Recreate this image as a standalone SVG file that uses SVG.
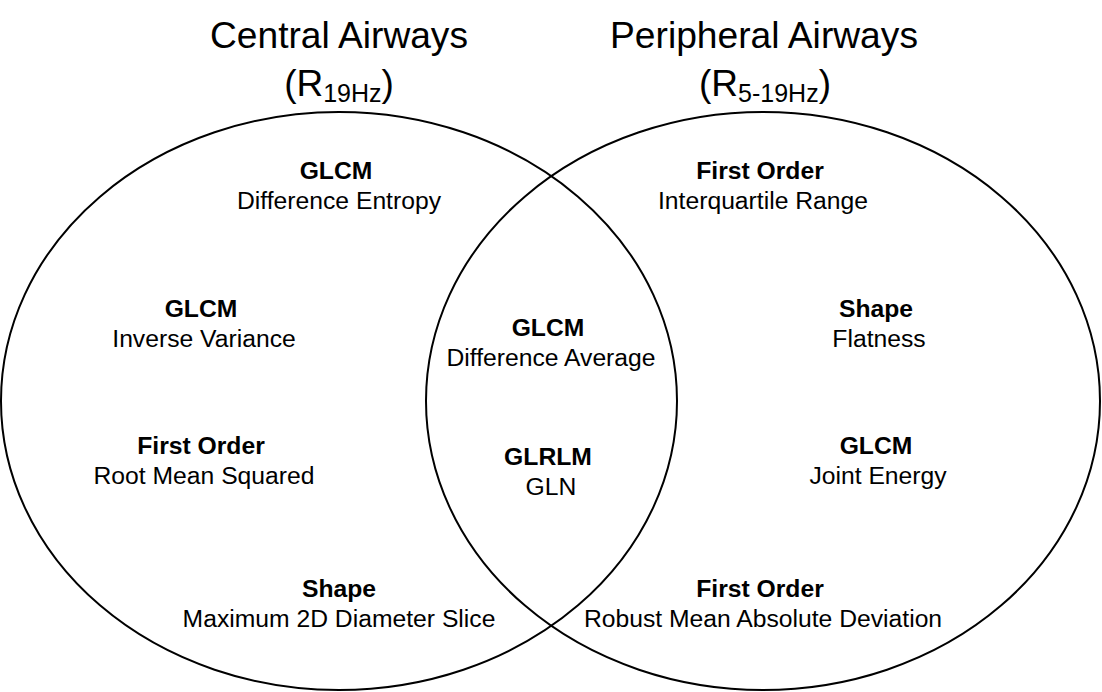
<svg xmlns="http://www.w3.org/2000/svg" width="1102" height="692" viewBox="0 0 1102 692">
<style>
.t{font-family:"Liberation Sans",Arial,sans-serif;fill:#000;text-anchor:middle}
.title{font-size:37px}
.sub{font-size:25px}
.h{font-size:24.7px;font-weight:bold}
.b{font-size:24.7px}
.set{fill:none;stroke:#000;stroke-width:2}
</style>
<rect width="1102" height="692" fill="#fff"/>
<g id="sets">
<ellipse id="central" class="set" cx="339" cy="401" rx="338" ry="289"/>
<ellipse id="peripheral" class="set" cx="763" cy="401" rx="337" ry="289"/>
</g>
<g id="titles">
<text class="t title" x="339" y="48" textLength="258" lengthAdjust="spacingAndGlyphs">Central Airways</text>
<text class="t title" x="339" y="96">(R<tspan class="sub" dy="6">19Hz</tspan><tspan dy="-6">)</tspan></text>
<text class="t title" x="764" y="48" textLength="308" lengthAdjust="spacingAndGlyphs">Peripheral Airways</text>
<text class="t title" x="765" y="96">(R<tspan class="sub" dy="6">5-19Hz</tspan><tspan dy="-6">)</tspan></text>
</g>
<g id="n1"><text class="t h" x="336" y="179">GLCM</text><text class="t b" x="339" y="209">Difference Entropy</text></g>
<g id="n2"><text class="t h" x="201" y="317">GLCM</text><text class="t b" x="204" y="347">Inverse Variance</text></g>
<g id="n3"><text class="t h" x="201" y="454">First Order</text><text class="t b" x="204" y="484">Root Mean Squared</text></g>
<g id="n4"><text class="t h" x="339" y="597">Shape</text><text class="t b" x="339" y="627">Maximum 2D Diameter Slice</text></g>
<g id="n5"><text class="t h" x="548" y="336">GLCM</text><text class="t b" x="551" y="366">Difference Average</text></g>
<g id="n6"><text class="t h" x="548" y="465">GLRLM</text><text class="t b" x="551" y="495">GLN</text></g>
<g id="n7"><text class="t h" x="760" y="179">First Order</text><text class="t b" x="763" y="209">Interquartile Range</text></g>
<g id="n8"><text class="t h" x="876" y="317">Shape</text><text class="t b" x="879" y="347">Flatness</text></g>
<g id="n9"><text class="t h" x="876" y="454">GLCM</text><text class="t b" x="878" y="484">Joint Energy</text></g>
<g id="n10"><text class="t h" x="760" y="597">First Order</text><text class="t b" x="763" y="627">Robust Mean Absolute Deviation</text></g>
<g id="connectors"></g>
</svg>
